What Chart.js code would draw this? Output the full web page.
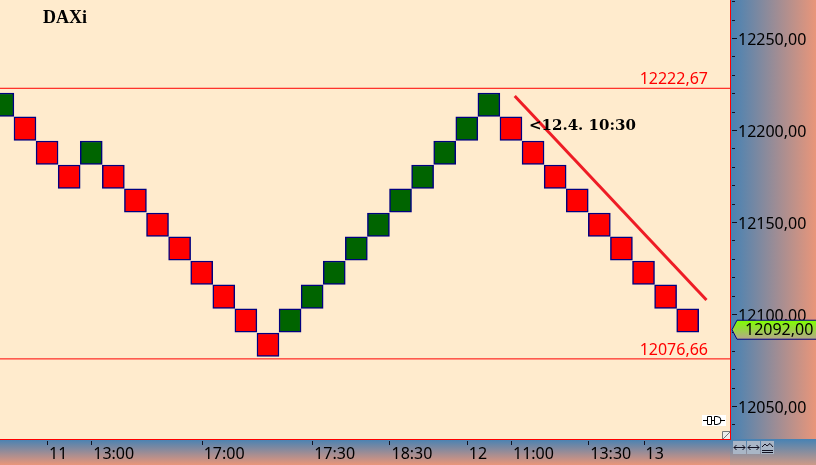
<!DOCTYPE html>
<html>
<head>
<meta charset="utf-8">
<title>DAXi</title>
<script src="https://cdn.jsdelivr.net/npm/chart.js@4"></script>
<style>
    html, body { margin: 0; padding: 0; background: #ffebcd; overflow: hidden; }
    canvas { display: block; }
</style>
</head>
<body>
<canvas id="myChart" width="816" height="465"></canvas>
<script>
const brickIndex = [0, 1, 2, 3, 4, 5, 6, 7, 8, 9, 10, 11, 12, 13, 14, 15, 16, 17, 18, 19, 20, 21, 22, 23, 24, 25, 26, 27, 28, 29, 30, 31];
const brickTop = [12220.1, 12207.1, 12194.0, 12181.0, 12194.0, 12181.0, 12168.0, 12154.9, 12141.9, 12128.8, 12115.8, 12102.8, 12089.7, 12102.8, 12115.8, 12128.8, 12141.9, 12154.9, 12168.0, 12181.0, 12194.0, 12207.1, 12220.1, 12207.1, 12194.0, 12181.0, 12168.0, 12154.9, 12141.9, 12128.8, 12115.8, 12102.8];
const brickBottom = [12207.4, 12194.4, 12181.3, 12168.3, 12181.3, 12168.3, 12155.3, 12142.2, 12129.2, 12116.1, 12103.1, 12090.1, 12077.0, 12090.1, 12103.1, 12116.1, 12129.2, 12142.2, 12155.3, 12168.3, 12181.3, 12194.4, 12207.4, 12194.4, 12181.3, 12168.3, 12155.3, 12142.2, 12129.2, 12116.1, 12103.1, 12090.1];
const brickDir = ['up', 'down', 'down', 'down', 'up', 'down', 'down', 'down', 'down', 'down', 'down', 'down', 'down', 'up', 'up', 'up', 'up', 'up', 'up', 'up', 'up', 'up', 'up', 'down', 'down', 'down', 'down', 'down', 'down', 'down', 'down', 'down'];

const timeTickPos = [2, 4, 9, 14, 17.5, 21, 23, 26.5, 29];
const timeTickLabels = ['11', '13:00', '17:00', '17:30', '18:30', '12', '11:00', '13:30', '13'];

// the low line sits a touch under its printed value in the picture
const levelHigh = 12222.67;
const levelLow = 12075.6;
const levelHighLabel = '12222,67';
const levelLowLabel = '12076,66';
const lastPrice = 12092;
const trendX = [23.17, 31.85];
const trendY = [12218.5, 12107.6];

const xMin = -0.131;
const xMax = 32.915;
const yMin = 12032.07;
const yMax = 12270.65;

const fmt = (v) => v.toFixed(2).replace('.', ',');
const axisFont = { family: '"Noto Sans"', size: 16 };

const noPadding = (axis) => {
    axis.paddingLeft = 0;
    axis.paddingRight = 0;
    axis.paddingTop = 0;
    axis.paddingBottom = 0;
};

const decor = {
    id: 'decor',
    beforeDraw(chart) {
        const { ctx, width, height, chartArea: a } = chart;
        let g = ctx.createLinearGradient(a.right, 0, width, 0);
        g.addColorStop(0, '#4682b4');
        g.addColorStop(1, '#e9967a');
        ctx.fillStyle = g;
        ctx.fillRect(a.right, 0, width - a.right, a.bottom);

        g = ctx.createLinearGradient(0, a.bottom, 0, height);
        g.addColorStop(0, '#4682b4');
        g.addColorStop(1, '#e9967a');
        ctx.fillStyle = g;
        ctx.fillRect(0, a.bottom, a.right, height - a.bottom);

        g = ctx.createLinearGradient(0, a.bottom, 0, height);
        g.addColorStop(0, '#4682b4');
        g.addColorStop(1, '#cc9a88');
        ctx.fillStyle = g;
        ctx.fillRect(a.right, a.bottom, width - a.right, height - a.bottom);
    },
    afterDraw(chart) {
        const { ctx, chartArea: a, scales } = chart;
        const x = scales.x;
        const y = scales.y;
        ctx.save();

        // plot frame
        ctx.fillStyle = '#ff0000';
        ctx.fillRect(a.right, 0, 1, a.bottom + 1);
        ctx.fillRect(0, a.bottom, a.right + 1, 1);

        // axis ticks
        ctx.fillStyle = '#101020';
        y.ticks.forEach((t) => {
            const py = Math.round(y.getPixelForValue(t.value));
            ctx.fillRect(a.right + 2, py, t.value % 50 === 0 ? 5 : 3, 1);
        });
        x.ticks.forEach((t) => {
            ctx.fillRect(Math.round(x.getPixelForValue(t.value)), a.bottom + 2, 1, 4);
        });

        // level labels
        ctx.font = '16px "Noto Sans"';
        ctx.fillStyle = '#ff0000';
        ctx.textAlign = 'right';
        ctx.textBaseline = 'middle';
        ctx.fillText(levelHighLabel, 708, y.getPixelForValue(levelHigh) - 8.5);
        ctx.fillText(levelLowLabel, 708, y.getPixelForValue(levelLow) - 8.5);

        // captions
        ctx.fillStyle = '#000000';
        ctx.textAlign = 'left';
        ctx.font = 'bold 18px "Liberation Serif"';
        ctx.fillText('DAXi', 43, 18);
        ctx.font = 'bold 15px "DejaVu Serif"';
        ctx.fillText('<12.4. 10:30', 529, 126);

        // last price tag
        const py = y.getPixelForValue(lastPrice) + 1;
        ctx.beginPath();
        ctx.moveTo(a.right + 2, py);
        ctx.lineTo(a.right + 7, py - 9.5);
        ctx.lineTo(817, py - 9.5);
        ctx.lineTo(817, py + 9.5);
        ctx.lineTo(a.right + 7, py + 9.5);
        ctx.closePath();
        const g = ctx.createLinearGradient(0, py - 9, 0, py + 9);
        g.addColorStop(0, '#7fff00');
        g.addColorStop(1, '#b4a888');
        ctx.fillStyle = g;
        ctx.fill();
        ctx.strokeStyle = '#000080';
        ctx.lineWidth = 1;
        ctx.stroke();
        ctx.fillStyle = '#000000';
        ctx.font = '16px "Noto Sans"';
        ctx.fillText(fmt(lastPrice), 745, py + 1);

        // connection icon
        ctx.fillStyle = '#ffffff';
        ctx.fillRect(702, 415, 24, 11);
        ctx.strokeStyle = '#000000';
        ctx.beginPath();
        ctx.moveTo(703, 420.5); ctx.lineTo(707, 420.5);
        ctx.moveTo(720, 420.5); ctx.lineTo(725, 420.5);
        ctx.moveTo(711, 420.5); ctx.lineTo(714, 420.5);
        ctx.rect(707.5, 416.5, 4, 8);
        ctx.moveTo(714.5, 416.5);
        ctx.lineTo(717, 416.5);
        ctx.arc(717, 420.5, 4, -Math.PI / 2, Math.PI / 2);
        ctx.lineTo(714.5, 424.5);
        ctx.closePath();
        ctx.stroke();

        // resize box
        ctx.fillStyle = '#ececec';
        ctx.fillRect(722, 431, 8, 8);
        ctx.strokeStyle = '#777777';
        ctx.beginPath();
        ctx.moveTo(722.5, 439); ctx.lineTo(722.5, 431.5); ctx.lineTo(730, 431.5);
        ctx.moveTo(723, 439); ctx.lineTo(730, 432);
        ctx.stroke();

        // corner buttons
        [733, 747, 761].forEach((bx, i) => {
            ctx.fillStyle = '#a9b6c6';
            ctx.fillRect(bx, 441, 13, 13);
            ctx.strokeStyle = '#101020';
            ctx.beginPath();
            if (i < 2) {
                ctx.moveTo(bx + 1, 447.5); ctx.lineTo(bx + 12, 447.5);
                ctx.moveTo(bx + 3.5, 445); ctx.lineTo(bx + 1, 447.5); ctx.lineTo(bx + 3.5, 450);
                ctx.moveTo(bx + 9.5, 445); ctx.lineTo(bx + 12, 447.5); ctx.lineTo(bx + 9.5, 450);
            } else {
                ctx.moveTo(bx + 1, 447); ctx.lineTo(bx + 4, 444); ctx.lineTo(bx + 6, 446);
                ctx.lineTo(bx + 9, 443.5); ctx.lineTo(bx + 12, 447);
                ctx.moveTo(bx + 1, 450.5); ctx.lineTo(bx + 12, 450.5);
                ctx.moveTo(bx + 1, 452.5); ctx.lineTo(bx + 12, 452.5);
            }
            ctx.stroke();
        });
        ctx.restore();
    },
};

new Chart(document.getElementById('myChart'), {
    type: 'bar',
    data: {
        datasets: [
            {
                type: 'line',
                data: [{ x: xMin, y: levelHigh }, { x: xMax, y: levelHigh }],
                borderColor: '#ff0000',
                borderWidth: 1,
                pointRadius: 0,
                order: 3,
            },
            {
                type: 'line',
                data: [{ x: xMin, y: levelLow }, { x: xMax, y: levelLow }],
                borderColor: '#ff0000',
                borderWidth: 1,
                pointRadius: 0,
                order: 3,
            },
            {
                data: brickIndex.map((i) => ({ x: i, y: [brickBottom[i], brickTop[i]] })),
                backgroundColor: brickDir.map((d) => (d === 'up' ? '#006400' : '#ff0000')),
                borderColor: '#000080',
                borderWidth: 1.5,
                borderSkipped: false,
                barThickness: 22,
                order: 2,
            },
            {
                type: 'line',
                data: trendX.map((x, i) => ({ x: x, y: trendY[i] })),
                borderColor: '#ee1c25',
                borderWidth: 3,
                pointRadius: 0,
                order: 1,
            },
        ],
    },
    options: {
        responsive: false,
        animation: false,
        events: [],
        plugins: {
            legend: { display: false },
            tooltip: { enabled: false },
        },
        scales: {
            x: {
                type: 'linear',
                offset: false,
                min: xMin,
                max: xMax,
                grid: { display: false, drawTicks: false },
                border: { display: false },
                afterBuildTicks: (axis) => {
                    axis.ticks = timeTickPos.map((v) => ({ value: v }));
                },
                afterFit: (axis) => {
                    axis.height = 26;
                    noPadding(axis);
                },
                ticks: {
                    autoSkip: false,
                    maxRotation: 0,
                    align: 'start',
                    labelOffset: 2,
                    padding: 6,
                    color: '#000000',
                    font: axisFont,
                    callback: (v) => timeTickLabels[timeTickPos.indexOf(v)],
                },
            },
            y: {
                position: 'right',
                min: yMin,
                max: yMax,
                grid: { display: false, drawTicks: false },
                border: { display: false },
                afterFit: (axis) => {
                    axis.width = 86;
                    noPadding(axis);
                },
                ticks: {
                    stepSize: 10,
                    includeBounds: false,
                    autoSkip: false,
                    padding: 8,
                    labelOffset: 2,
                    color: '#000000',
                    font: axisFont,
                    callback: (v) => (v % 50 === 0 ? fmt(v) : ''),
                },
            },
        },
    },
    plugins: [decor],
});
</script>
</body>
</html>
